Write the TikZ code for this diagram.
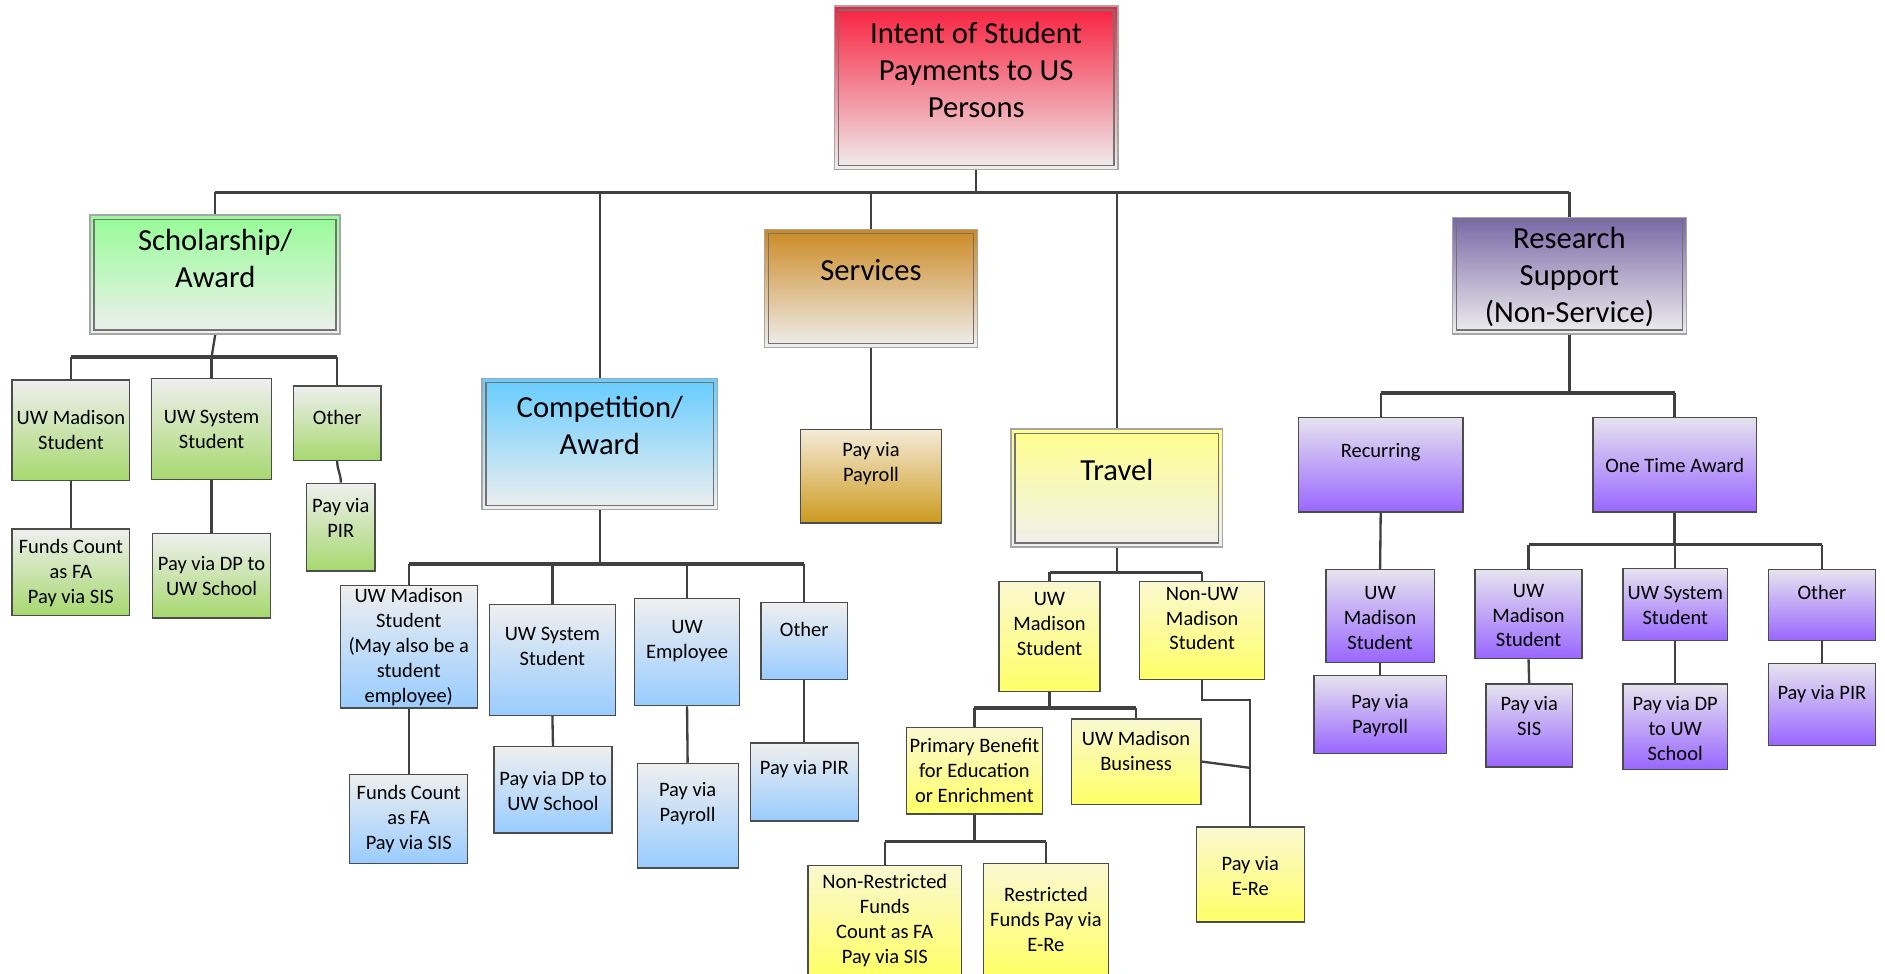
\documentclass[tikz,border=0pt]{standalone}
\usepackage{fontspec}
\setmainfont{Carlito}
\usetikzlibrary{fit}
\definecolor{lg}{HTML}{EFEFEF}
\definecolor{cRed}{HTML}{F8203E}
\definecolor{cGreen}{HTML}{96FC96}
\definecolor{cBlue}{HTML}{66CCFF}
\definecolor{cOrange}{HTML}{CC8A24}
\definecolor{cYellow}{HTML}{FFFF8C}
\definecolor{cPurple}{HTML}{7A68A6}
\definecolor{sGreen}{HTML}{A6D86E}
\definecolor{sBlue}{HTML}{99CCFF}
\definecolor{sOrange}{HTML}{CC9A1E}
\definecolor{sOrangeT}{HTML}{F5EBD8}
\definecolor{sYellow}{HTML}{FFFF66}
\definecolor{sYellowT}{HTML}{FAF8D0}
\definecolor{sPurple}{HTML}{9966FF}
\definecolor{sPurpleT}{HTML}{E6E3EE}
\definecolor{lineC}{HTML}{404040}
\tikzset{
  bx/.style={draw=black!70, line width=0.6pt, inner sep=0pt},
  bigb/.style={draw=black!35, line width=0.7pt, inner sep=0pt},
  innerframe/.style={draw=black!55, line width=0.7pt},
  Rbig/.style={bigb, top color=cRed, bottom color=lg},
  Gbig/.style={bigb, top color=cGreen, bottom color=lg},
  Bbig/.style={bigb, top color=cBlue, bottom color=lg},
  Obig/.style={bigb, top color=cOrange, bottom color=lg},
  Ybig/.style={bigb, top color=cYellow, bottom color=lg},
  Pbig/.style={bigb, top color=cPurple, bottom color=lg},
  Gs/.style={bx, top color=lg, bottom color=sGreen},
  Bs/.style={bx, top color=lg, bottom color=sBlue},
  Os/.style={bx, top color=sOrangeT, bottom color=sOrange},
  Ys/.style={bx, top color=sYellowT, bottom color=sYellow},
  Ps/.style={bx, top color=sPurpleT, bottom color=sPurple},
  conn/.style={draw=lineC, line width=1.1pt},
  bus/.style={draw=lineC, line width=1.6pt},
  bigtxt/.style={font=\fontsize{14.5}{17.6}\selectfont, align=center, inner sep=0pt},
  smtxt/.style={font=\fontsize{9.7}{11.8}\selectfont, align=center, inner sep=0pt},
}
% name, style, x1, y1, x2, y2, ytext, text
\newcommand\smbox[8]{\node[#2,fit={(#3,#4)(#5,#6)}](#1){};\node[smtxt] (#1t) at ({(#3+#5)/2},#7){#8};}
\newcommand\bigbox[8]{\node[#2,fit={(#3,#4)(#5,#6)}](#1){};\draw[innerframe]([shift={(4,4)}]#1.north west) rectangle ([shift={(-4,-4)}]#1.south east);\node[bigtxt] (#1t) at ({(#3+#5)/2},#7){#8};}
\begin{document}
\begin{tikzpicture}[x=0.02cm,y=-0.02cm]
\useasboundingbox[fill=white] (0,0) rectangle (1568,810);
% bus levels
\coordinate (b0) at (0,160);
\coordinate (bS) at (0,297);
\coordinate (bC) at (0,469);
\coordinate (bT) at (0,476);
\coordinate (bT2) at (0,589);
\coordinate (bT3) at (0,700);
\coordinate (bR) at (0,327);
\coordinate (bO) at (0,453);
\coordinate (bN) at (0,582);

% top level
\bigbox{root}{Rbig}{694}{5}{930}{141}{58}{Intent of Student\\Payments to US\\Persons}
\bigbox{sch}{Gbig}{75}{179}{283}{278}{215}{Scholarship/\\Award}
\bigbox{comp}{Bbig}{401}{315}{597}{424}{354}{Competition/\\Award}
\bigbox{serv}{Obig}{636}{191}{813}{289}{225}{Services}
\bigbox{trav}{Ybig}{841}{357}{1017}{455}{391}{Travel}
\bigbox{res}{Pbig}{1208}{181}{1403}{278}{230.5}{Research\\Support\\(Non-Service)}

% scholarship branch
\smbox{sum}{Gs}{10}{316}{108}{400}{358}{UW Madison\\Student}
\smbox{sus}{Gs}{126}{315}{226}{399}{357}{UW System\\Student}
\smbox{so}{Gs}{244}{321}{317}{383}{347}{Other}
\smbox{sf}{Gs}{10}{440}{108}{512}{477}{Funds Count\\as FA\\Pay via SIS}
\smbox{sd}{Gs}{127}{444}{225}{514}{479.5}{Pay via DP to\\UW School}
\smbox{sp}{Gs}{255}{402}{312}{475}{430.5}{Pay via\\PIR}

% competition branch
\smbox{cum}{Bs}{283}{487}{397}{589}{538.5}{UW Madison\\Student\\(May also be a\\student\\employee)}
\smbox{cus}{Bs}{407}{503}{512}{595}{537.5}{UW System\\Student}
\smbox{cue}{Bs}{528}{498}{615}{587}{533}{UW\\Employee}
\smbox{co}{Bs}{633}{501}{705}{565}{524}{Other}
\smbox{cf}{Bs}{291}{644}{389}{718}{681.5}{Funds Count\\as FA\\Pay via SIS}
\smbox{cd}{Bs}{411}{621}{509}{693}{658}{Pay via DP to\\UW School}
\smbox{cp}{Bs}{530}{635}{614}{722}{668.5}{Pay via\\Payroll}
\smbox{cpir}{Bs}{624}{618}{714}{683}{640}{Pay via PIR}

% services branch
\smbox{vp}{Os}{666}{357}{783}{435}{386}{Pay via\\Payroll}

% travel branch
\smbox{tum}{Ys}{831}{484}{915}{575}{519}{UW\\Madison\\Student}
\smbox{tnu}{Ys}{948}{484}{1052}{565}{514.5}{Non-UW\\Madison\\Student}
\smbox{tpb}{Ys}{754}{605}{867}{677}{641}{Primary Benefit\\for Education\\or Enrichment}
\smbox{tb}{Ys}{891}{598}{999}{669}{624.5}{UW Madison\\Business}
\smbox{te}{Ys}{995}{688}{1085}{767}{728.5}{Pay via\\E-Re}
\smbox{tnr}{Ys}{672}{720}{800}{812}{765.5}{Non-Restricted\\Funds\\Count as FA\\Pay via SIS}
\smbox{tr}{Ys}{818}{718}{922}{812}{765}{Restricted\\Funds Pay via\\E-Re}

% research branch
\smbox{rr}{Ps}{1080}{347}{1217}{426}{376}{Recurring}
\smbox{ro}{Ps}{1325}{347}{1461}{426}{387}{One Time Award}
\smbox{rum}{Ps}{1103}{474}{1193}{551}{514}{UW\\Madison\\Student}
\smbox{rpp}{Ps}{1093}{562}{1203}{627}{595.5}{Pay via\\Payroll}
\smbox{oum}{Ps}{1227}{474}{1316}{548}{512}{UW\\Madison\\Student}
\smbox{ous}{Ps}{1350}{473}{1437}{533}{503.5}{UW System\\Student}
\smbox{oo}{Ps}{1471}{474}{1560}{533}{493}{Other}
\smbox{osis}{Ps}{1236}{569}{1308}{638}{595.5}{Pay via\\SIS}
\smbox{odp}{Ps}{1350}{569}{1437}{640}{606}{Pay via DP\\to UW\\School}
\smbox{opir}{Ps}{1471}{552}{1560}{620}{577}{Pay via PIR}

% ---- connectors ----
% top level
\draw[conn] (root.south) -- (root.south|-b0);
\draw[bus] (sch.north|-b0) -- (res.north|-b0);
\foreach \n in {sch,comp,serv,trav,res} \draw[conn] (\n.north|-b0) -- (\n.north);

% scholarship
\draw[conn] (sch.south) -- (sus.north|-bS);
\draw[bus] (sum.north|-bS) -- (so.north|-bS);
\foreach \n in {sum,sus,so} \draw[conn] (\n.north|-bS) -- (\n.north);
\draw[conn] (sum.south) -- (sf.north);
\draw[conn] (sus.south) -- (sd.north);
\draw[conn] (so.south) .. controls +(0,8) and +(0,-8) .. (sp.north);

% competition
\draw[conn] (comp.south) -- (comp.south|-bC);
\draw[bus] (cum.north|-bC) -- (co.north|-bC);
\foreach \n in {cum,cus,cue,co} \draw[conn] (\n.north|-bC) -- (\n.north);
\draw[conn] (cum.south) -- (cf.north);
\draw[conn] (cus.south) -- (cd.north);
\draw[conn] (cue.south) -- (cp.north);
\draw[conn] (co.south) -- (cpir.north);

% services
\draw[conn] (serv.south) -- (vp.north);

% travel
\draw[conn] (trav.south) -- (trav.south|-bT);
\draw[bus] (tum.north|-bT) -- (tnu.north|-bT);
\foreach \n in {tum,tnu} \draw[conn] (\n.north|-bT) -- (\n.north);
\draw[conn] (tum.south) -- (tum.south|-bT2);
\draw[bus] (tpb.north|-bT2) -- (tb.north|-bT2);
\foreach \n in {tpb,tb} \draw[conn] (\n.north|-bT2) -- (\n.north);
\draw[conn] (tpb.south) -- (tpb.south|-bT3);
\draw[bus] (tnr.north|-bT3) -- (tr.north|-bT3);
\foreach \n in {tnr,tr} \draw[conn] (\n.north|-bT3) -- (\n.north);
\draw[conn] (tnu.south) -- (tnu.south|-bN) -| (te.north);
\draw[conn] (tb.east) -- ([yshift=-3]tb.east-|te.north);

% research
\draw[conn] (res.south) -- (res.south|-bR);
\draw[bus] (rr.north|-bR) -- (ro.north|-bR);
\foreach \n in {rr,ro} \draw[conn] (\n.north|-bR) -- (\n.north);
\draw[conn] (rr.south) -- (rum.north);
\draw[conn] (rum.south) -- (rpp.north);
\draw[conn] (ro.south) -- (ro.south|-bO);
\draw[bus] (oum.north|-bO) -- (oo.north|-bO);
\foreach \n in {oum,ous,oo} \draw[conn] (\n.north|-bO) -- (\n.north);
\draw[conn] (oum.south) -- (osis.north);
\draw[conn] (ous.south) -- (odp.north);
\draw[conn] (oo.south) -- (opir.north);
\end{tikzpicture}
\end{document}
